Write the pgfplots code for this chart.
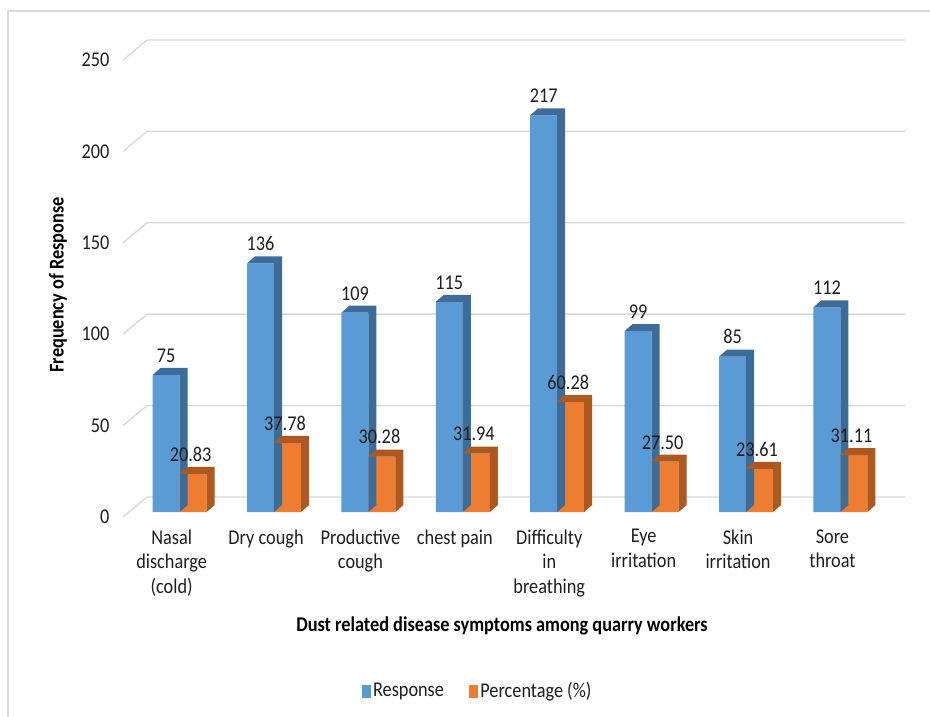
\documentclass[border=0pt]{standalone}
\usepackage{pgfplots}
\usepackage{pgfplotstable}
\pgfplotsset{compat=1.18}
\usepackage{fontspec}
\setmainfont{Carlito}[FakeStretch=0.87]

\definecolor{cblue}{RGB}{91,155,213}
\definecolor{cblueD}{RGB}{62,108,152}
\definecolor{corange}{RGB}{237,125,49}
\definecolor{corangeD}{RGB}{172,88,30}
\definecolor{gridc}{RGB}{217,217,217}
\definecolor{txt}{RGB}{30,30,30}

\pgfplotstableread{
x resp pct
0 75 20.83
1 136 37.78
2 109 30.28
3 115 31.94
4 217 60.28
5 99 27.50
6 85 23.61
7 112 31.11
}\datatable

% side + top face of a 3D bar; mark sits at the top-right corner of the front face
\pgfdeclareplotmark{box3d}{%
  \pgfmathsetmacro\H{\rawy*1.828*1.00375}%
  \pgfmathsetmacro\B{7.03-\H}%
  \pgfmathsetmacro\Bb{-\H}%
  \pgfpathmoveto{\pgfpoint{0pt}{0pt}}%
  \pgfpathlineto{\pgfpoint{8.03pt}{7.03pt}}%
  \pgfpathlineto{\pgfpoint{8.03pt}{\B pt}}%
  \pgfpathlineto{\pgfpoint{0pt}{\Bb pt}}%
  \pgfpathclose
  \pgfpathmoveto{\pgfpoint{0pt}{0pt}}%
  \pgfpathlineto{\pgfpoint{8.03pt}{7.03pt}}%
  \pgfpathlineto{\pgfpoint{-19.07pt}{7.03pt}}%
  \pgfpathlineto{\pgfpoint{-27.1pt}{0pt}}%
  \pgfpathclose
  \pgfusepathqfill
}

\begin{document}
\begin{tikzpicture}[font=\fontsize{21bp}{24.5bp}\selectfont, text=txt]
\useasboundingbox (-123bp,-205bp) rectangle (807bp,512bp);
\draw[gridc, line width=1.6bp] (812bp,501bp) -- (-115bp,501bp) -- (-115bp,-215bp);
\begin{axis}[
  name=ax, at={(0,0)}, anchor=south west,
  scale only axis, x=94.4bp, y=1.828bp,
  xmin=-0.6, xmax=7.7, ymin=0, ymax=250,
  clip=false,
  axis line style={draw=none},
  major tick length=0pt,
  /pgf/number format/assume math mode=true,
  bar width=0.286,
  xtick={0,...,7},
  xticklabels={{Nasal\\discharge\\(cold)},{Dry cough},{Productive\\cough},{chest pain},{Difficulty\\in\\breathing},{Eye\\irritation},{Skin\\irritation},{Sore\\throat}},
  xticklabel style={align=center, xshift=-8bp, yshift=-14bp, font=\fontsize{21bp}{24.5bp}\selectfont},
  ytick={0,50,...,250},
  yticklabel style={xshift=-10bp, yshift=-5bp, font=\fontsize{21bp}{24.5bp}\selectfont},
  nodes near coords style={font=\fontsize{21bp}{24.5bp}\selectfont, anchor=south, yshift=9bp},
  legend columns=2,
  legend image code/.code={\fill[#1] (-5bp,-6bp) rectangle (3bp,6bp);},
  legend style={draw=none, fill=none, at={(axis description cs:0.4531,-0.3917)}, anchor=center,
    font=\fontsize{21bp}{24.5bp}\selectfont,
    /tikz/every even column/.append style={column sep=22bp},
    nodes={inner sep=3bp}},
]
\pgfplotsinvokeforeach{0,50,100,150,200,250}{
  \draw[gridc, line width=1.4bp] (axis cs:-0.6,#1) ++(0bp,-5bp) -- ++(24bp,20bp) -- ++(758bp,0bp);
}
% Response: side/top faces then front
\addplot[forget plot, only marks, mark=box3d, color=cblueD, fill=cblueD,
  visualization depends on={y \as \rawy}] table[x=x, y=resp] {\datatable};
\addplot[forget plot, ybar, bar shift=-0.143, fill=cblue, draw=none,
  nodes near coords={\pgfmathprintnumber[fixed, precision=0]{\pgfplotspointmeta}},
  every node near coord/.append style={xshift=-13.5bp}] table[x=x, y=resp] {\datatable};
% Percentage: side/top faces then front
\addplot[forget plot, only marks, mark=box3d, color=corangeD, fill=corangeD,
  visualization depends on={y \as \rawy}] table[x expr=\thisrow{x}+0.286, y=pct] {\datatable};
\addplot[forget plot, ybar, bar shift=0.143, fill=corange, draw=none,
  nodes near coords={\pgfmathprintnumber[fixed, fixed zerofill, precision=2]{\pgfplotspointmeta}},
  every node near coord/.append style={xshift=11bp}] table[x=x, y=pct] {\datatable};
\addlegendimage{cblue}
\addlegendentry{Response}
\addlegendimage{corange}
\addlegendentry{Percentage (\%)}
\end{axis}
\node[rotate=90, font=\fontsize{21bp}{24.5bp}\selectfont\bfseries, text=black] at (-65bp,227bp) {Frequency of Response};
\node[font=\fontsize{21bp}{24.5bp}\selectfont\bfseries, text=black] at (379bp,-114bp) {Dust related disease symptoms among quarry workers};
\end{tikzpicture}
\end{document}
